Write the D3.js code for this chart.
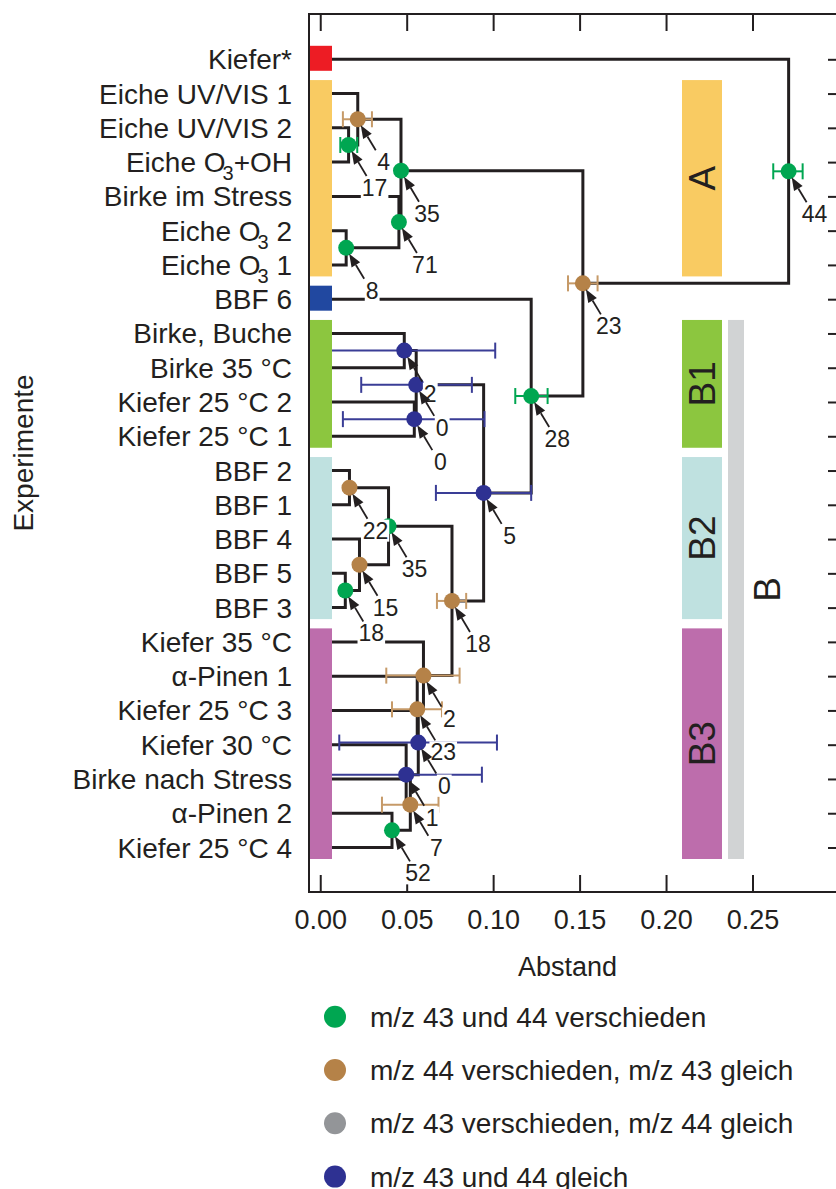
<!DOCTYPE html>
<html>
<head>
<meta charset="utf-8">
<script src="https://cdn.jsdelivr.net/npm/d3@7"></script>
<style>
  body { margin: 0; background: #fff; }
  svg { display: block; font-family: "Liberation Sans", Arial, sans-serif; }
</style>
</head>
<body>
<svg id="chart"></svg>
<script>
// leaves, top to bottom ("_3" marks a subscript 3)
const leaves = [
  "Kiefer*", "Eiche UV/VIS 1", "Eiche UV/VIS 2", "Eiche O_3+OH", "Birke im Stress",
  "Eiche O_3 2", "Eiche O_3 1", "BBF 6", "Birke, Buche", "Birke 35 °C",
  "Kiefer 25 °C 2", "Kiefer 25 °C 1", "BBF 2", "BBF 1", "BBF 4", "BBF 5", "BBF 3",
  "Kiefer 35 °C", "α-Pinen 1", "Kiefer 25 °C 3", "Kiefer 30 °C",
  "Birke nach Stress", "α-Pinen 2", "Kiefer 25 °C 4"
];

// merge steps: [id, child a, child b, distance, type, error lo, error hi, label]
const merges = [
  ["n17", "Eiche UV/VIS 2", "Eiche O_3+OH", 0.0164, "both", 0.0116, 0.0214, "17"],
  ["n4", "Eiche UV/VIS 1", "n17", 0.0217, "m44", 0.0131, 0.0299, "4"],
  ["n8", "Eiche O_3 2", "Eiche O_3 1", 0.0150, "both", null, null, "8"],
  ["n71", "Birke im Stress", "n8", 0.0455, "both", null, null, "71"],
  ["n35a", "n4", "n71", 0.0467, "both", null, null, "35"],
  ["n2b", "Birke, Buche", "Birke 35 °C", 0.0486, "none", 0.0, 0.1012, "2"],
  ["n0b", "Kiefer 25 °C 2", "Kiefer 25 °C 1", 0.0544, "none", 0.0131, 0.0950, "0"],
  ["n0a", "n2b", "n0b", 0.0555, "none", 0.0237, 0.0877, "0"],
  ["n22", "BBF 2", "BBF 1", 0.0169, "m44", null, null, "22"],
  ["n18g", "BBF 5", "BBF 3", 0.0145, "both", null, null, "18"],
  ["n15", "BBF 4", "n18g", 0.0227, "m44", null, null, "15"],
  ["n35b", "n22", "n15", 0.0395, "both", null, null, "35"],
  ["n52", "α-Pinen 2", "Kiefer 25 °C 4", 0.0415, "both", null, null, "52"],
  ["n7", "Birke nach Stress", "n52", 0.0521, "m44", 0.0357, 0.0684, "7"],
  ["n1", "Kiefer 30 °C", "n7", 0.0497, "none", 0.0, 0.0935, "1"],
  ["n0c", "Kiefer 25 °C 3", "n1", 0.0567, "none", 0.0110, 0.1022, "0"],
  ["n23b", "α-Pinen 1", "n0c", 0.0561, "m44", 0.0415, 0.0704, "23"],
  ["n2c", "Kiefer 35 °C", "n23b", 0.0597, "m44", 0.0382, 0.0806, "2"],
  ["n18b", "n35b", "n2c", 0.0762, "m44", 0.0675, 0.0844, "18"],
  ["n5", "n0a", "n18b", 0.0945, "none", 0.0669, 0.1220, "5"],
  ["n28", "BBF 6", "n5", 0.1220, "both", 0.1128, 0.1315, "28"],
  ["n23", "n35a", "n28", 0.1519, "m44", 0.1433, 0.1604, "23"],
  ["n44", "Kiefer*", "n23", 0.2709, "both", 0.2620, 0.2790, "44"]
];

// colour strips beside the leaves: [first, last, key]
const strips = [
  ["Kiefer*", "Kiefer*", "red"],
  ["Eiche UV/VIS 1", "Eiche O_3 1", "yellow"],
  ["BBF 6", "BBF 6", "blue"],
  ["Birke, Buche", "Kiefer 25 °C 1", "green"],
  ["BBF 2", "BBF 3", "teal"],
  ["Kiefer 35 °C", "Kiefer 25 °C 4", "purple"]
];
// cluster bars on the right: [name, first, last, key]
const clusters = [
  ["A", "Eiche UV/VIS 1", "Eiche O_3 1", "yellow"],
  ["B1", "Birke, Buche", "Kiefer 25 °C 1", "green"],
  ["B2", "BBF 2", "BBF 3", "teal"],
  ["B3", "Kiefer 35 °C", "Kiefer 25 °C 4", "purple"]
];
const superCluster = ["B", "Birke, Buche", "Kiefer 25 °C 4", "grey"];

const xTicks = [0, 0.05, 0.10, 0.15, 0.20, 0.25];
const legendItems = [
  ["both", "m/z 43 und 44 verschieden"],
  ["m44", "m/z 44 verschieden, m/z 43 gleich"],
  ["m43", "m/z 43 verschieden, m/z 44 gleich"],
  ["none", "m/z 43 und 44 gleich"]
];

const fill = {
  red: "#ed1c24", yellow: "#f9cb62", blue: "#2148a0", green: "#8cc63f",
  teal: "#bfe1e0", purple: "#bd6dac", grey: "#d1d3d4"
};
const nodeColor = { both: "#00a651", m44: "#b58248", m43: "#939598", none: "#2e3192" };
const errColor = { both: "#00a651", m44: "#c69a68", m43: "#939598", none: "#3a3d96" };
const ink = "#231f20";

const W = 836, H = 1189;
const frame = { left: 309, right: 845, top: 14, bottom: 892 };

const svg = d3.select("#chart").attr("width", W).attr("height", H);

const x = d3.scaleLinear().domain([-0.0065, 0.3035]).range([frame.left, frame.right]);
const y = d3.scalePoint().domain(leaves).range([59.3, 847.5]);

// positions of leaves and merge nodes
const pos = new Map();
leaves.forEach(l => pos.set(l, { x: x(0), y: y(l) }));
const nodes = merges.map(([id, a, b, d, type, lo, hi, label]) => {
  const pa = pos.get(a), pb = pos.get(b);
  const n = { id, a: pa, b: pb, x: x(d), y: (pa.y + pb.y) / 2, type, lo, hi, label };
  pos.set(id, n);
  return n;
});

// frame
svg.append("rect")
  .attr("x", frame.left).attr("y", frame.top)
  .attr("width", frame.right - frame.left).attr("height", frame.bottom - frame.top)
  .attr("fill", "none").attr("stroke", ink).attr("stroke-width", 2);

const bottomAxis = svg.append("g")
  .attr("transform", `translate(0,${frame.bottom})`)
  .call(d3.axisBottom(x).tickValues(xTicks).tickSize(-17).tickPadding(18)
    .tickFormat(d3.format(".2f")));
const topAxis = svg.append("g")
  .attr("transform", `translate(0,${frame.top})`)
  .call(d3.axisTop(x).tickValues(xTicks).tickSize(-17).tickFormat(""));
const rightAxis = svg.append("g")
  .attr("transform", `translate(${frame.right},0)`)
  .call(d3.axisRight(y).tickSize(-17).tickFormat(""));
[bottomAxis, topAxis, rightAxis].forEach(g => {
  g.select(".domain").remove();
  g.selectAll(".tick line").attr("stroke", ink).attr("stroke-width", 2);
});
bottomAxis.selectAll(".tick text")
  .attr("font-size", 27).attr("fill", ink)
  .attr("font-family", "Liberation Sans, Arial, sans-serif");

svg.append("text")
  .attr("x", (x(0) + x(0.3)) / 2 - 12).attr("y", 976)
  .attr("text-anchor", "middle").attr("font-size", 27).attr("fill", ink)
  .text("Abstand");

svg.append("text")
  .attr("transform", `translate(23,${(frame.top + frame.bottom) / 2}) rotate(-90)`)
  .attr("text-anchor", "middle").attr("dy", "0.35em")
  .attr("font-size", 28).attr("fill", ink)
  .text("Experimente");

// leaf labels
svg.append("g").selectAll("text")
  .data(leaves)
  .join("text")
  .attr("x", 292).attr("y", d => y(d) + 10)
  .attr("text-anchor", "end").attr("font-size", 28).attr("fill", ink)
  .each(function(d) {
    const t = d3.select(this);
    const parts = d.split("_3");
    t.append("tspan").text(parts[0]);
    if (parts.length > 1) {
      t.append("tspan").attr("font-size", 20).attr("dx", -3).attr("dy", 8).text("3");
      t.append("tspan").attr("dy", -8).text(parts[1]);
    }
  });

// dendrogram elbows
svg.append("g").selectAll("path")
  .data(nodes)
  .join("path")
  .attr("d", n => `M${n.a.x},${n.a.y}H${n.x}V${n.b.y}H${n.b.x}`)
  .attr("fill", "none").attr("stroke", ink).attr("stroke-width", 3);

// error bars
const withErr = nodes.filter(n => n.lo !== null);
const eb = svg.append("g").selectAll("g").data(withErr).join("g")
  .attr("stroke", n => errColor[n.type]).attr("stroke-width", 2);
eb.append("line")
  .attr("x1", n => x(n.lo)).attr("x2", n => x(n.hi))
  .attr("y1", n => n.y).attr("y2", n => n.y);
eb.append("line")
  .attr("x1", n => x(n.lo)).attr("x2", n => x(n.lo))
  .attr("y1", n => n.y - 8).attr("y2", n => n.y + 8);
eb.append("line")
  .attr("x1", n => x(n.hi)).attr("x2", n => x(n.hi))
  .attr("y1", n => n.y - 8).attr("y2", n => n.y + 8);

// colour strips beside the leaves
const bandTop = l => y(l) - 13.5, bandBottom = l => y(l) + 11.5;
svg.append("g").selectAll("rect")
  .data(strips)
  .join("rect")
  .attr("x", frame.left + 1).attr("width", 22)
  .attr("y", d => bandTop(d[0]))
  .attr("height", d => bandBottom(d[1]) - bandTop(d[0]))
  .attr("fill", d => fill[d[2]]);

// cluster bars
const barG = svg.append("g");
barG.selectAll("rect")
  .data(clusters)
  .join("rect")
  .attr("x", 682).attr("width", 40)
  .attr("y", d => bandTop(d[1]))
  .attr("height", d => bandBottom(d[2]) - bandTop(d[1]))
  .attr("fill", d => fill[d[3]]);
barG.selectAll("text")
  .data(clusters)
  .join("text")
  .attr("transform", d => `translate(702,${(bandTop(d[1]) + bandBottom(d[2])) / 2}) rotate(-90)`)
  .attr("text-anchor", "middle").attr("dy", "0.36em")
  .attr("font-size", 37).attr("fill", ink)
  .text(d => d[0]);
barG.append("rect")
  .attr("x", 728).attr("width", 16)
  .attr("y", bandTop(superCluster[1]))
  .attr("height", bandBottom(superCluster[2]) - bandTop(superCluster[1]))
  .attr("fill", fill[superCluster[3]]);
barG.append("text")
  .attr("transform", `translate(767,${(bandTop(superCluster[1]) + bandBottom(superCluster[2])) / 2}) rotate(-90)`)
  .attr("text-anchor", "middle").attr("dy", "0.36em")
  .attr("font-size", 37).attr("fill", ink)
  .text(superCluster[0]);

// nodes
svg.append("g").selectAll("circle")
  .data(nodes)
  .join("circle")
  .attr("cx", n => n.x).attr("cy", n => n.y).attr("r", 8)
  .attr("fill", n => nodeColor[n.type]);

// node labels with white backing
const lab = svg.append("g").selectAll("g").data(nodes).join("g");
lab.append("text")
  .attr("x", n => n.x + 26).attr("y", n => n.y + 51)
  .attr("text-anchor", "middle").attr("font-size", 23).attr("fill", ink)
  .text(n => n.label);
lab.insert("rect", "text").each(function() {
  const bb = this.parentNode.querySelector("text").getBBox();
  d3.select(this)
    .attr("x", bb.x - 1).attr("y", bb.y + 2)
    .attr("width", bb.width + 2).attr("height", bb.height - 4)
    .attr("fill", "#fff");
});

// arrows from labels to nodes
const arrows = svg.append("g").selectAll("g").data(nodes).join("g");
arrows.each(function(n) {
  const g = d3.select(this);
  const tx = n.x + 18, ty = n.y + 31, px = n.x + 3, py = n.y + 6;
  const len = Math.hypot(px - tx, py - ty);
  const ux = (px - tx) / len, uy = (py - ty) / len;
  const bx = px - ux * 13, by = py - uy * 13;
  g.append("line")
    .attr("x1", tx).attr("y1", ty).attr("x2", bx).attr("y2", by)
    .attr("stroke", ink).attr("stroke-width", 1.8);
  g.append("path")
    .attr("d", `M${px},${py}L${bx - uy * 5},${by + ux * 5}L${bx + uy * 5},${by - ux * 5}Z`)
    .attr("fill", ink);
});

// legend
const leg = svg.append("g").selectAll("g")
  .data(legendItems)
  .join("g")
  .attr("transform", (d, i) => `translate(0,${1016.7 + i * 53.3})`);
leg.append("circle").attr("cx", 335).attr("cy", 0).attr("r", 11)
  .attr("fill", d => nodeColor[d[0]]);
leg.append("text").attr("x", 370).attr("y", 10)
  .attr("font-size", 28).attr("fill", ink)
  .text(d => d[1]);
</script>
</body>
</html>
